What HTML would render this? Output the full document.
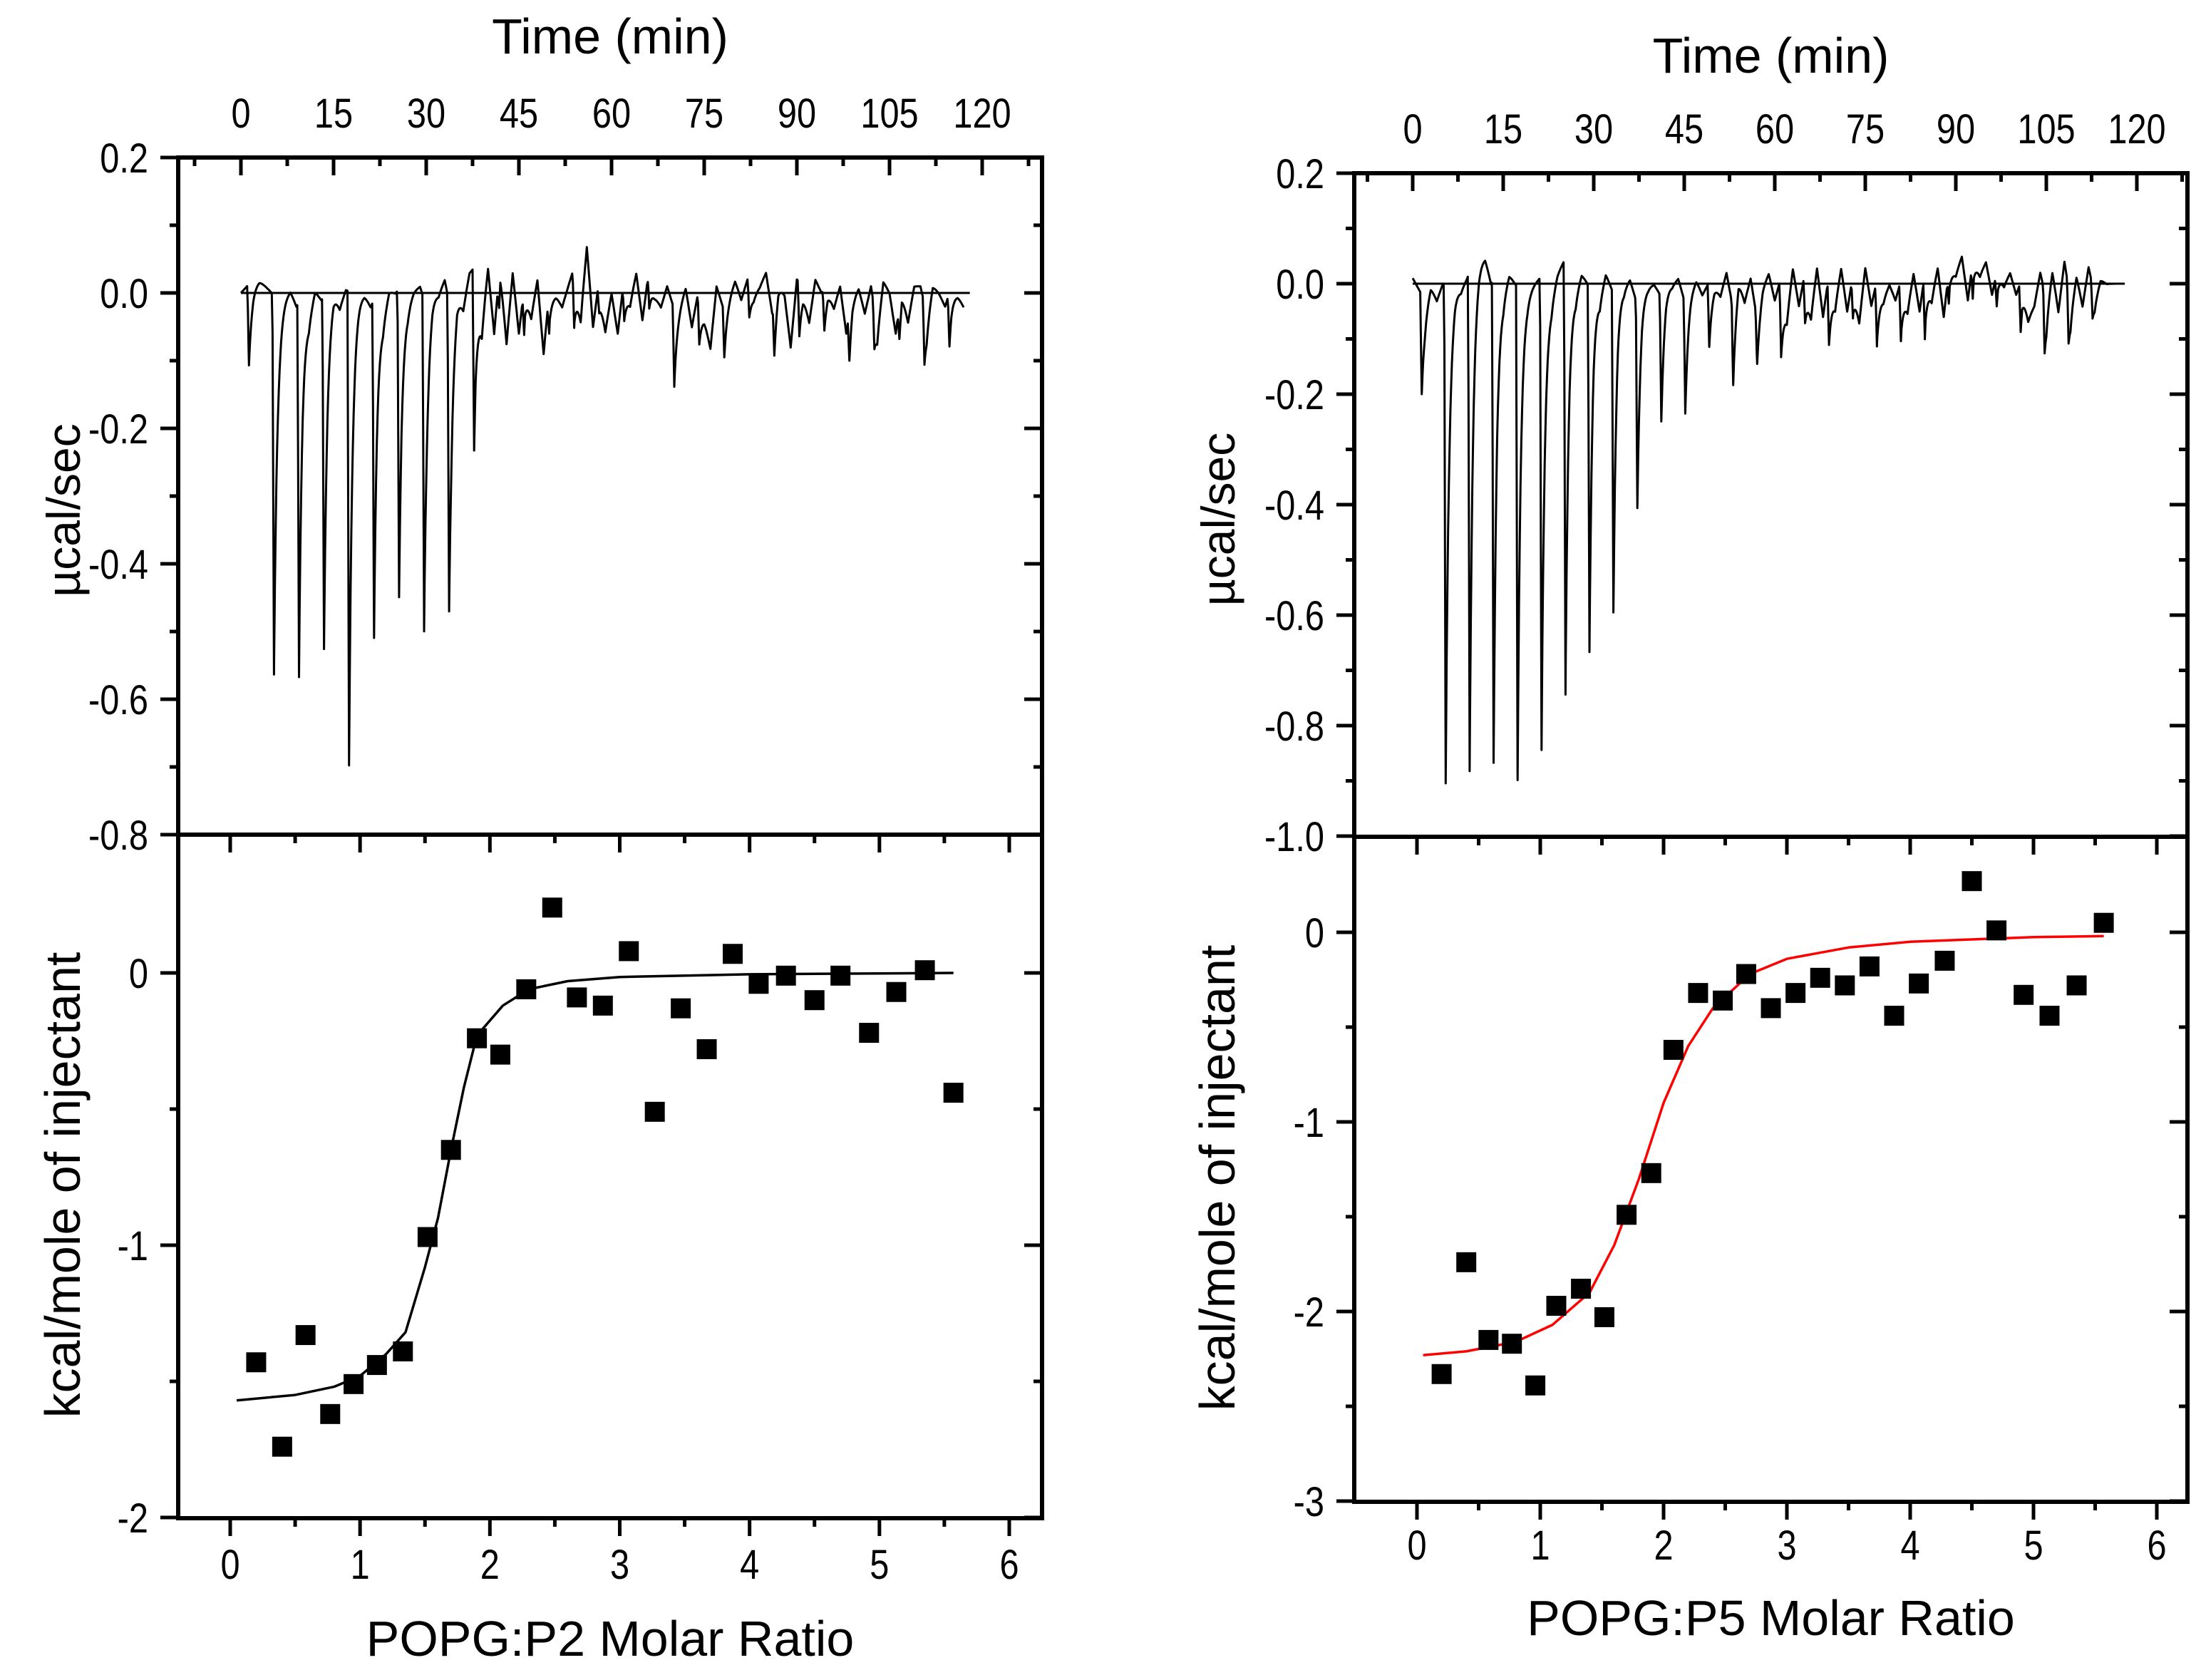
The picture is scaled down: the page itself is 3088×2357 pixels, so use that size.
<!DOCTYPE html>
<html><head><meta charset="utf-8"><style>
html,body{margin:0;padding:0;background:#fff}
svg{display:block}
text{font-family:"Liberation Sans",Arial,sans-serif;fill:#000}
</style></head><body>
<svg id="fig" width="3088" height="2357" viewBox="0 0 3088 2357" xmlns="http://www.w3.org/2000/svg"></svg>
<script>
// ---------- Data: left panel (P2) ----------
const leftInjStart = 1.3, leftInjStep = 4.05;
const leftPeakDepth = [-0.12,-0.56,-0.555,-0.52,-0.70,-0.50,-0.455,-0.49,-0.455,-0.27,-0.05,-0.07,-0.06,-0.09,-0.05,-0.06,-0.05,-0.12,-0.07,-0.08,-0.05,-0.08,-0.08,-0.06,-0.07,-0.06,-0.05,-0.09,-0.08];
const leftNoise = [0,0.01,0.02,0.02,0.01,0.0,-0.01,0.0,0.005,-0.02,0.0,-0.03,0.005,-0.01,0.0,0.01,-0.02,0.005,0.0,0.005,0.0,-0.02,0.0,-0.03,0.005,0.0,0.01,-0.01,0.005,0.01,-0.02,0.01,0.0,0.02,-0.03,0.01,-0.02,0.03,0.04,-0.04,
0.04,-0.06,0.05,-0.07,0.03,-0.06,0.02,-0.03,0.02,-0.09,0.01,0.0,-0.02,0.01,0.04,-0.03,0.07,-0.05,0.02,-0.05,0.0,-0.06,0.02,-0.01,0.03,-0.04,0.03,0.0,-0.02,0.01,
-0.02,-0.01,0.01,-0.05,0.0,-0.03,-0.08,0.01,-0.02,0.0,0.02,-0.01,0.02,0.0,0.01,0.03,-0.03,0.02,0.0,-0.08,0.02,0.01,-0.04,0.02,0.0,0.01,-0.02,0.01,-0.06,0.0,0.01,-0.03,0.01,-0.05,0.02,0.0,-0.06,0.01,-0.04,0.01,0.01,-0.03,0.015,0.0,-0.02,0.01,0.0,-0.02,0.0,0.0];
const leftRatio = [0.2,0.4,0.58,0.77,0.95,1.13,1.33,1.52,1.7,1.9,2.08,2.28,2.48,2.67,2.87,3.07,3.27,3.47,3.67,3.87,4.07,4.28,4.5,4.7,4.92,5.13,5.35,5.57];
const leftHeat = [-1.43,-1.74,-1.33,-1.62,-1.51,-1.44,-1.39,-0.97,-0.65,-0.24,-0.3,-0.06,0.24,-0.09,-0.12,0.08,-0.51,-0.13,-0.28,0.07,-0.04,-0.01,-0.1,-0.01,-0.22,-0.07,0.01,-0.44];
const leftFitX = [0.05,0.5,0.8,1.0,1.2,1.35,1.5,1.6,1.7,1.8,1.9,2.1,2.3,2.6,3.0,4.0,5.57];
const leftFitY = [-1.57,-1.55,-1.52,-1.48,-1.40,-1.32,-1.08,-0.9,-0.65,-0.42,-0.23,-0.12,-0.06,-0.03,-0.015,-0.005,0];
// ---------- Data: right panel (P5) ----------
const rightInjStart = 1.5, rightInjStep = 3.97;
const rightPeakDepth = [-0.18,-0.895,-0.905,-0.875,-0.90,-0.85,-0.78,-0.675,-0.595,-0.385,-0.235,-0.21,-0.115,-0.15,-0.09,-0.14,-0.09,-0.13,-0.08,-0.12,-0.11,-0.12,-0.06,-0.07,-0.06,-0.09,-0.11,-0.1,-0.06];
const rightNoise = [0.01,-0.01,-0.03,0.0,-0.03,0.0,-0.02,0.005,-0.01,0.01,0.04,0.055,0.05,0.0,0.02,-0.01,0.02,0.0,0.005,-0.01,0.0,0.01,0.0,-0.02,0.02,0.04,0.03,-0.01,0.02,0.0,0.03,-0.02,0.02,-0.01,0.03,0.0,0.01,-0.03,0.01,0.0,
0.0,-0.02,0.01,0.0,0.01,-0.03,0.0,0.01,-0.02,0.0,0.005,-0.02,0.02,-0.04,0.02,-0.03,0.01,-0.06,0.0,0.02,-0.03,0.01,-0.05,0.03,-0.04,0.02,-0.05,0.03,-0.06,0.02,
-0.03,0.03,-0.05,0.02,-0.06,0.03,-0.04,0.01,-0.02,0.0,-0.03,0.01,-0.04,0.02,-0.05,0.03,-0.02,0.03,-0.06,0.04,0.02,0.05,-0.03,0.06,0.02,0.04,-0.02,0.03,0.0,0.02,-0.02,0.01,-0.06,-0.04,0.02,-0.03,0.03,-0.05,0.04,-0.03,0.02,-0.04,0.03,-0.02,0.01,0.0,0.0];
const rightRatio = [0.2,0.4,0.58,0.77,0.96,1.13,1.33,1.52,1.7,1.9,2.08,2.28,2.48,2.67,2.87,3.07,3.27,3.47,3.67,3.87,4.07,4.28,4.5,4.7,4.92,5.13,5.35,5.57];
const rightHeat = [-2.33,-1.74,-2.15,-2.17,-2.39,-1.97,-1.88,-2.03,-1.49,-1.27,-0.62,-0.32,-0.36,-0.22,-0.4,-0.32,-0.24,-0.28,-0.18,-0.44,-0.27,-0.15,0.27,0.01,-0.33,-0.44,-0.28,0.05];
const rightFitX = [0.05,0.4,0.8,1.1,1.4,1.6,1.8,2.0,2.2,2.4,2.7,3.0,3.5,4.0,5.0,5.57];
const rightFitY = [-2.23,-2.21,-2.16,-2.07,-1.9,-1.65,-1.3,-0.9,-0.6,-0.4,-0.22,-0.14,-0.08,-0.05,-0.025,-0.02];
const timeTicks = [0,15,30,45,60,75,90,105,120];

const NS="http://www.w3.org/2000/svg";
const svg=document.getElementById('fig');
function mk(tag,attrs,parent){const e=document.createElementNS(NS,tag);for(const k in attrs)e.setAttribute(k,attrs[k]);(parent||svg).appendChild(e);return e;}
function lin(d0,d1,r0,r1){return v=>r0+(v-d0)*(r1-r0)/(d1-d0);}
function tickLabel(g,x,y,str,anchor){
  const t=mk('text',{x:0,y:0,'font-size':58,'text-anchor':anchor,transform:`translate(${x},${y}) scale(0.84,1)`},g);
  t.textContent=str;
  
  
}
function title(g,x,y,str,size,rot,name){
  const t=mk('text',{x:0,y:0,'font-size':size,'text-anchor':'middle',transform:`translate(${x},${y})`+(rot?' rotate(-90)':'')},g);
  t.textContent=str;
  
  
}
function line(g,x1,y1,x2,y2,w){mk('line',{x1,y1,x2,y2,stroke:'#000','stroke-width':w||5},g);}

function panel(P){
  const g=mk('g',{});
  
  
  const L=P.left,R=P.right,T=P.top,M=P.mid,B=P.bottom;
  const xt=lin(0,120,P.t0,P.t120);
  const yT=lin(0,0.2,P.y0top,P.y02top);
  const xr=lin(0,6,P.r0,P.r6);
  const yB=lin(0,-1,P.y0bot,P.yM1bot);
  mk('rect',{x:L,y:T,width:R-L,height:B-T,fill:'none',stroke:'#000','stroke-width':6},g);
  line(g,L,M,R,M,6);
  for(let i=0;i<=P.topN*2;i++){
    const v=P.topMax-i*0.1; const y=yT(v); const maj=i%2===0;
    line(g,L-(maj?25:12),y,L,y); line(g,R,y,R-(maj?25:12),y);
    if(maj) tickLabel(g,L-42,y+21,v.toFixed(1),'end');
  }
  for(let t=-7.5;t<=127.5;t+=7.5){
    const x=xt(t); if(x<L+4||x>R-4) continue; const maj=Math.abs(t%15)<0.01;
    line(g,x,T,x,T+(maj?25:12));
  }
  timeTicks.forEach(t=>tickLabel(g,xt(t),T-42,String(t),'middle'));
  for(let v=P.botMin;v<=0.5001;v+=0.5){
    const y=yB(v); if(y<M+4) continue; const maj=Math.abs(v-Math.round(v))<0.01;
    line(g,L-(maj?25:12),y,L,y); line(g,R,y,R-(maj?25:12),y);
    if(maj) tickLabel(g,L-42,y+21,String(Math.round(v)),'end');
  }
  for(let v=0;v<=6.001;v+=0.5){
    const x=xr(v); const maj=Math.abs(v-Math.round(v))<0.01;
    line(g,x,B,x,B+(maj?25:12)); line(g,x,M,x,M+(maj?25:12));
    if(maj) tickLabel(g,x,B+P.xlabOff,String(Math.round(v)),'middle');
  }
  title(g,(L+R)/2,P.timeTitleY,'Time (min)',70,false,'time-axis-title');
  title(g,P.yTitleX,(T+M)/2+20,'\u00b5cal/sec',66,true,'power-axis-title');
  title(g,P.yTitleX,(M+B)/2+12,'kcal/mole of injectant',70,true,'heat-axis-title');
  title(g,(L+R)/2,P.xTitleY,P.xTitle,70,false,'molar-ratio-axis-title');
  line(g,xt(0),yT(0),xt(118),yT(0),3);
  const times=[];
  for(let t=0;t<=117;t+=0.125) times.push(t);
  P.depth.forEach((d,k)=>times.push(P.injStart+k*P.injStep));
  times.sort((a,b)=>a-b);
  const pts=[];
  times.forEach(t=>{
    const i=Math.floor(t),f=t-i;
    const n0=P.noise[i]||0,n1=P.noise[i+1]||0;
    let v=n0+(n1-n0)*f;
    P.depth.forEach((d,k)=>{
      const tp=P.injStart+k*P.injStep;
      if(t>=tp-0.25&&t<tp) v+=d*(t-(tp-0.25))/0.25;
      else if(t>=tp) v+=d*Math.exp(-(t-tp)/0.55);
    });
    pts.push(xt(t).toFixed(1)+','+yT(v).toFixed(1));
  });
  const tr=mk('polyline',{points:pts.join(' '),fill:'none',stroke:'#000','stroke-width':3,'stroke-linejoin':'round'},g);
  
  
  const fp=P.fitX.map((x,i)=>xr(x).toFixed(1)+','+yB(P.fitY[i]).toFixed(1)).join(' ');
  const fl=mk('polyline',{points:fp,fill:'none',stroke:P.fitColor,'stroke-width':3.5,'stroke-linejoin':'round'},g);
  
  
  P.ratio.forEach((x,i)=>{
    const s=mk('rect',{x:xr(x)-14,y:yB(P.heat[i])-14,width:28,height:28,fill:'#000'},g);
    
    
  });
}

panel({name:'p2-panel',left:250,right:1462,top:221,mid:1171,bottom:2130,
  t0:338,t120:1378,y0top:411,y02top:221,topMax:0.2,topN:5,
  r0:323,r6:1416,y0bot:1365,yM1bot:1747,botMin:-2,xlabOff:85,
  timeTitleY:75,xTitleY:2323,yTitleX:112,xTitle:'POPG:P2 Molar Ratio',
  injStart:leftInjStart,injStep:leftInjStep,depth:leftPeakDepth,noise:leftNoise,
  ratio:leftRatio,heat:leftHeat,fitX:leftFitX,fitY:leftFitY,fitColor:'#000'});
panel({name:'p5-panel',left:1900,right:3069,top:243,mid:1174,bottom:2107,
  t0:1982,t120:2998,y0top:398,y02top:243,topMax:0.2,topN:6,
  r0:1988,r6:3026,y0bot:1308,yM1bot:1574,botMin:-3,xlabOff:81,
  timeTitleY:102,xTitleY:2294,yTitleX:1732,xTitle:'POPG:P5 Molar Ratio',
  injStart:rightInjStart,injStep:rightInjStep,depth:rightPeakDepth,noise:rightNoise,
  ratio:rightRatio,heat:rightHeat,fitX:rightFitX,fitY:rightFitY,fitColor:'#ff0000'});
</script>
</body></html>
